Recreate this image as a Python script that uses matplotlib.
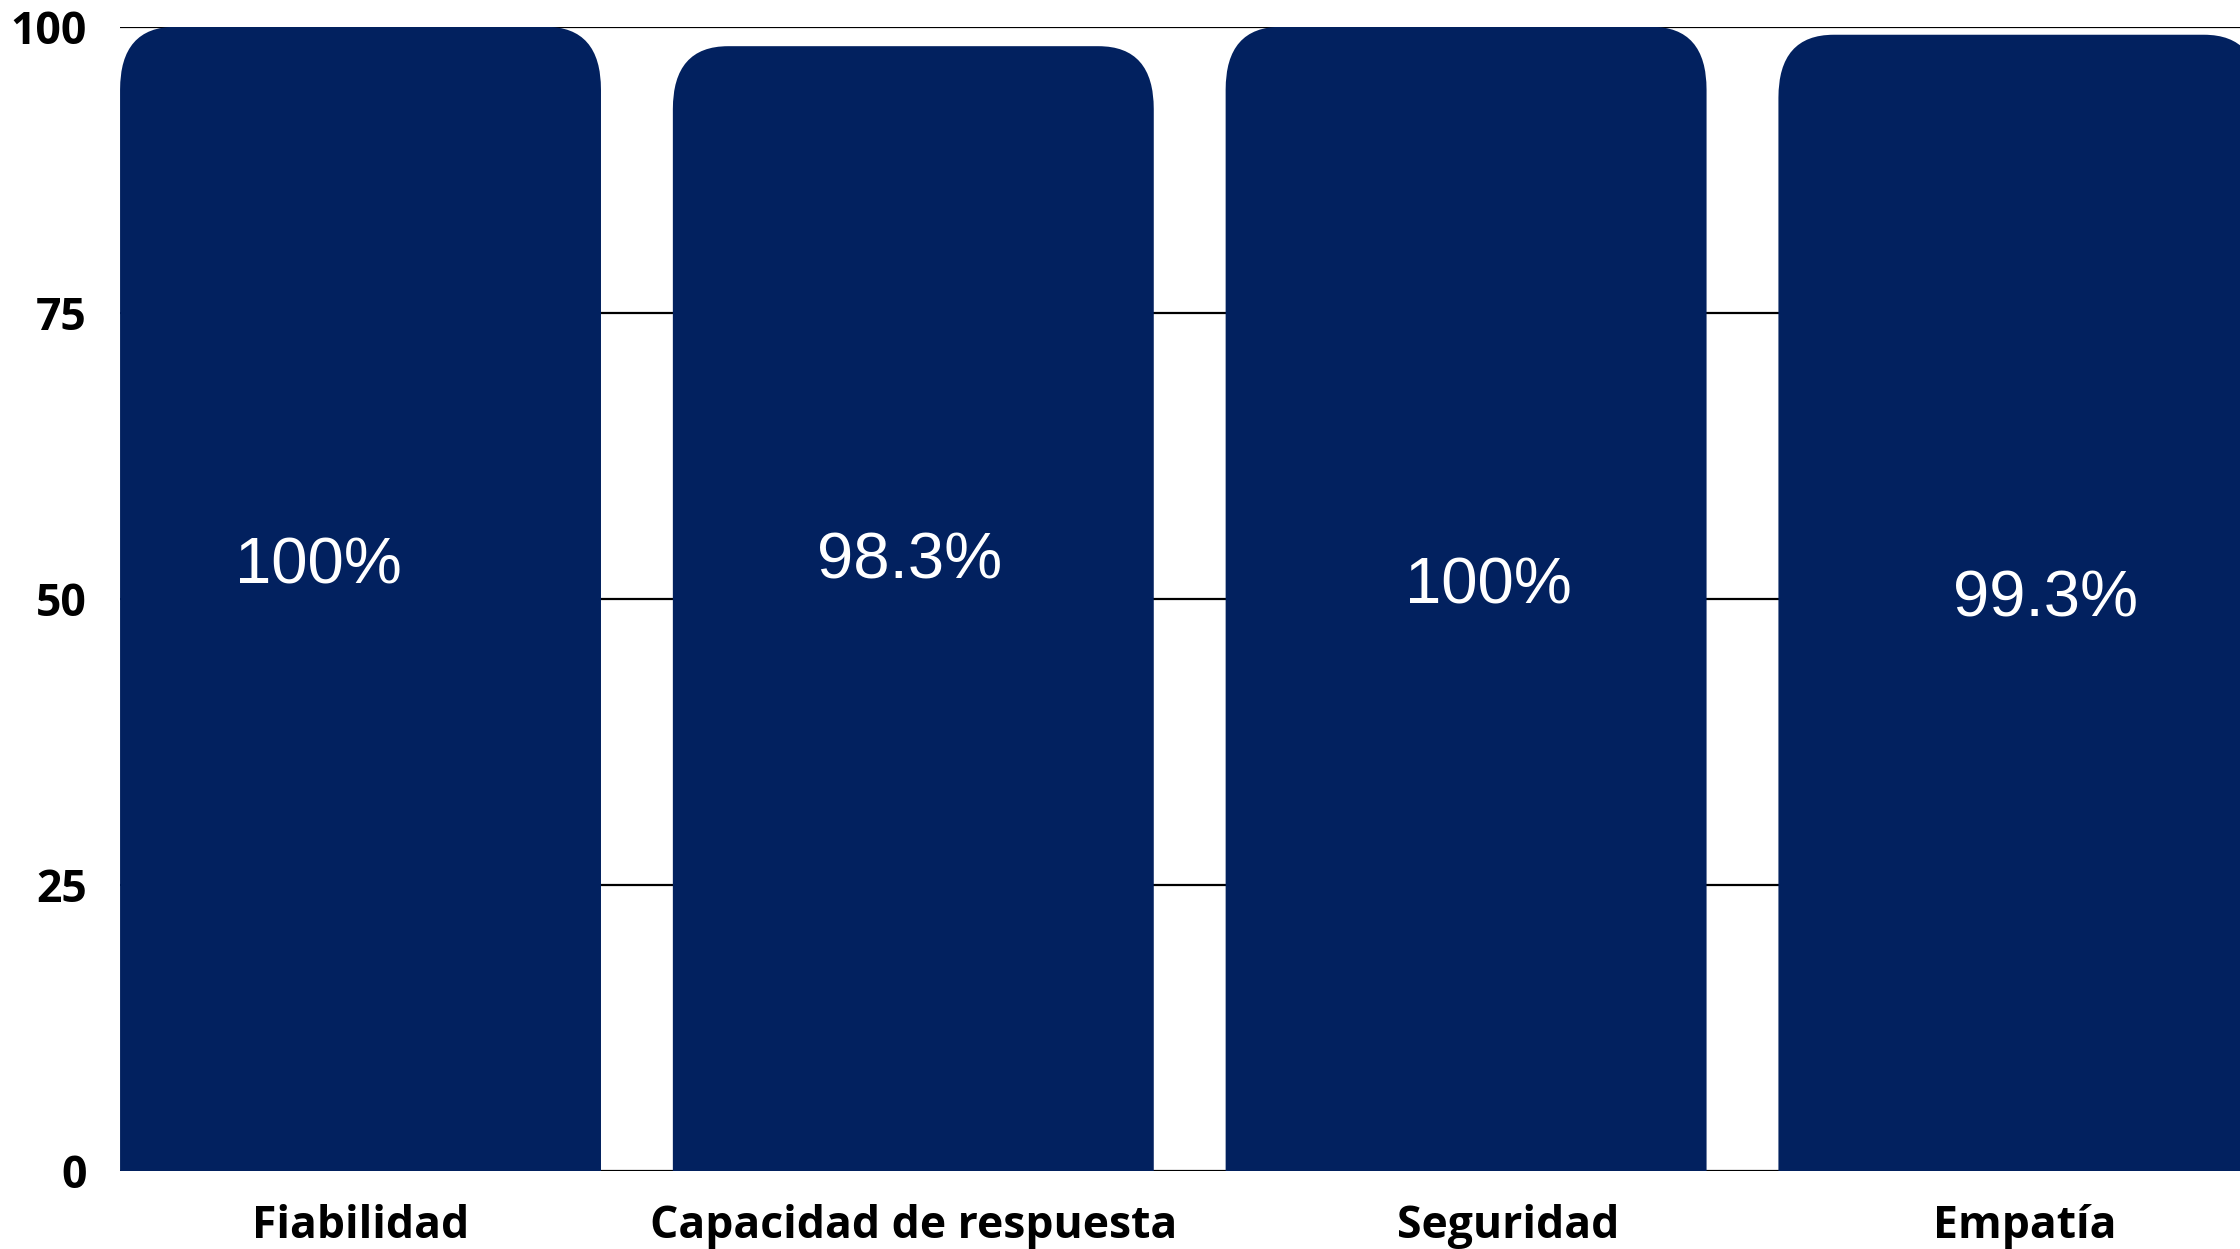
import matplotlib.pyplot as plt
import numpy as np
from matplotlib.patches import FancyBboxPatch

# Percentage of positive answers per service-quality dimension.
categories = ["Fiabilidad", "Capacidad de respuesta", "Seguridad", "Empatía"]
values = [100, 98.3, 100, 99.3]
y_ticks = [0, 25, 50, 75, 100]

BAR_COLOR = "#02215f"

# Hand-placed label nudges (category units / y units).
label_dx = [-0.077, -0.007, 0.04, 0.048]
label_y = [52.85, 53.3, 51.1, 49.9]
tick_dx = [0.0, 0.0, 0.077, 0.01]


def main() -> None:
    fig = plt.figure(figsize=(22.4, 12.49), dpi=100)
    ax = fig.add_axes([0.0536, 0.0625, 0.9464, 0.9161])

    x = np.arange(len(categories))
    bars = ax.bar(x, values, width=0.87, color=BAR_COLOR, zorder=2)

    ax.set_xlim(-0.435, 3.40)
    ax.set_ylim(0, 100)

    # Swap the plain bars for ones with rounded top corners. The bottom is
    # pushed below zero so the axes clip it square.
    rx = 0.1
    ry = 5.5
    for bar in bars:
        x0 = bar.get_x()
        w = bar.get_width()
        h = bar.get_height()
        patch = FancyBboxPatch(
            (x0, -10),
            w,
            h + 10,
            boxstyle=f"round,pad=0,rounding_size={rx}",
            mutation_aspect=ry / rx,
            facecolor=BAR_COLOR,
            edgecolor="none",
            zorder=2,
        )
        ax.add_patch(patch)
        bar.remove()

    # Value labels inside the bars.
    for i, v in enumerate(values):
        ax.text(
            x[i] + label_dx[i],
            label_y[i],
            f"{v:g}%",
            ha="center",
            va="center",
            color="white",
            fontsize=47,
            family="Liberation Sans",
            zorder=3,
        )

    # Horizontal grid lines only, drawn behind the bars.
    ax.set_yticks(y_ticks)
    ax.yaxis.grid(True, color="black", linewidth=1.6, zorder=0)
    ax.set_axisbelow(True)
    for spine in ax.spines.values():
        spine.set_visible(False)

    ax.set_xticks(x + np.array(tick_dx))
    ax.set_xticklabels(categories, fontfamily="Open Sans", fontweight="bold", fontsize=32)
    ax.set_yticklabels([str(t) for t in y_ticks], fontfamily="Open Sans",
                       fontweight="bold", fontsize=32)
    ax.tick_params(axis="both", length=0)
    ax.tick_params(axis="x", pad=24)
    ax.tick_params(axis="y", pad=24)

    fig.savefig("out.png", dpi=100)


if __name__ == "__main__":
    main()
